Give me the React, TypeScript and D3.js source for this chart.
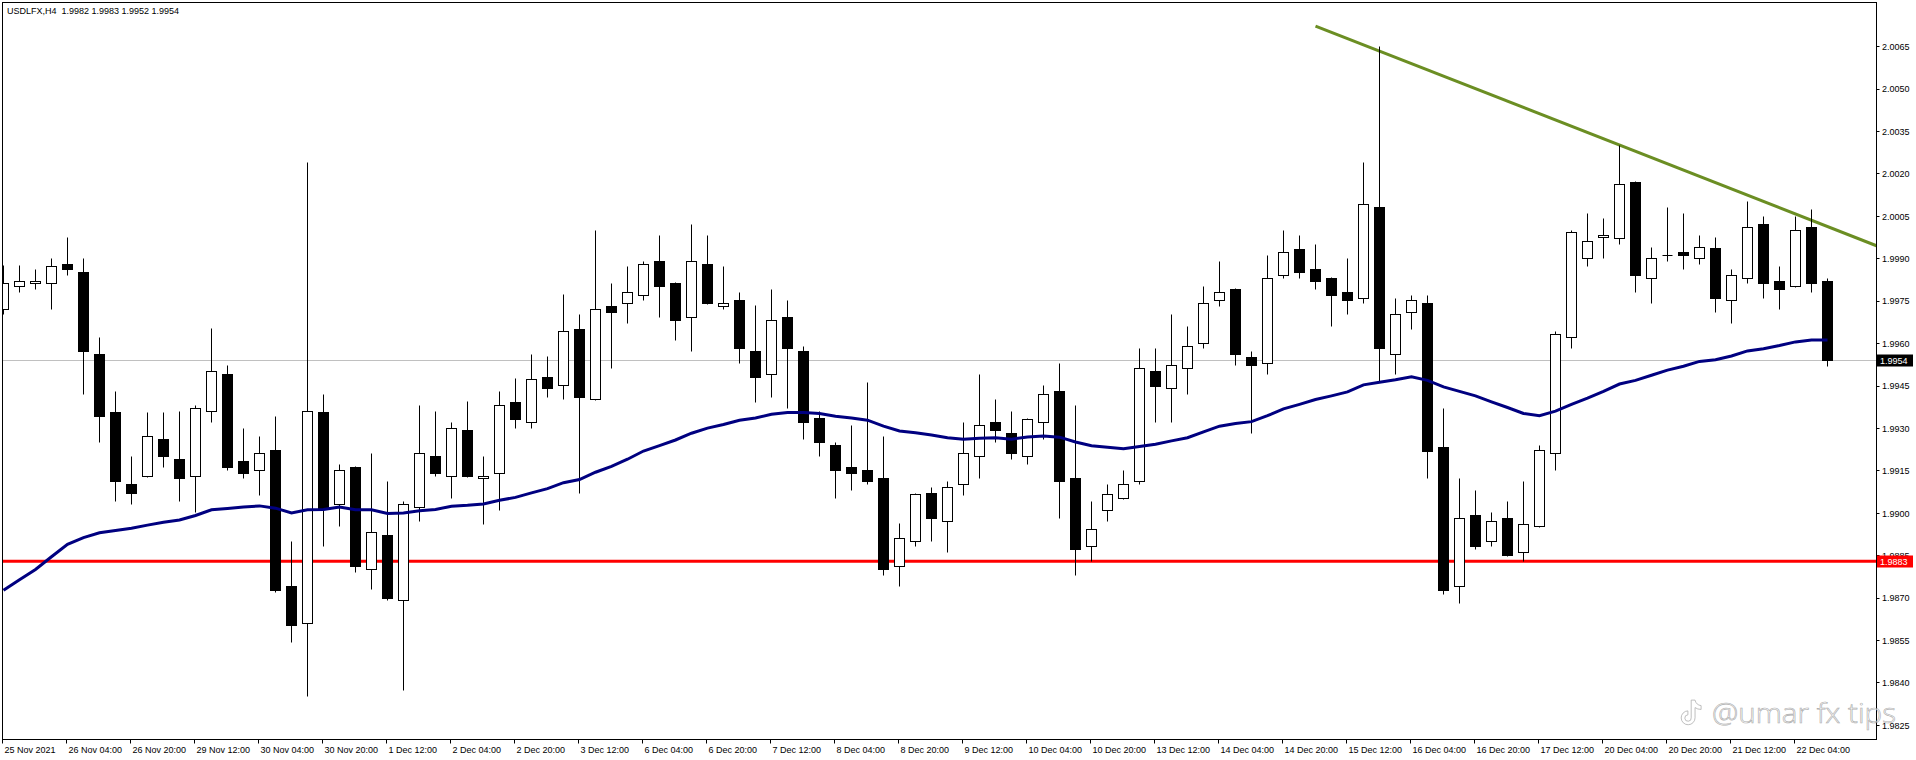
import * as d3 from "d3";

// H4 bars, 25 Nov 2021 12:00 .. 22 Dec 2021 12:00
const timeLabels = [
  "25 Nov 2021", "26 Nov 04:00", "26 Nov 20:00", "29 Nov 12:00", "30 Nov 04:00", "30 Nov 20:00",
  "1 Dec 12:00", "2 Dec 04:00", "2 Dec 20:00", "3 Dec 12:00", "6 Dec 04:00", "6 Dec 20:00",
  "7 Dec 12:00", "8 Dec 04:00", "8 Dec 20:00", "9 Dec 12:00", "10 Dec 04:00", "10 Dec 20:00",
  "13 Dec 12:00", "14 Dec 04:00", "14 Dec 20:00", "15 Dec 12:00", "16 Dec 04:00", "16 Dec 20:00",
  "17 Dec 12:00", "20 Dec 04:00", "20 Dec 20:00", "21 Dec 12:00", "22 Dec 04:00",
];
const LABEL_EVERY = 4; // one time label every 4 bars

const opens = [
  1.99722, 1.99803, 1.99813, 1.99813, 1.99881, 1.99853, 1.99563, 1.99355, 1.99103, 1.99129,
  1.99262, 1.99191, 1.99129, 1.9936, 1.99491, 1.99184, 1.9915, 1.99223, 1.98742, 1.98609,
  1.99355, 1.9903, 1.99162, 1.98801, 1.98923, 1.98692, 1.9902, 1.992, 1.99129, 1.99293,
  1.99122, 1.99142, 1.99392, 1.99321, 1.9948, 1.99452, 1.9965, 1.99402, 1.99731, 1.99741,
  1.9977, 1.99891, 1.99813, 1.99692, 1.99879, 1.99731, 1.99753, 1.99572, 1.99491, 1.99692,
  1.99572, 1.99334, 1.99241, 1.99161, 1.9915, 1.99122, 1.9881, 1.989, 1.99069, 1.9897,
  1.99101, 1.992, 1.99321, 1.99283, 1.992, 1.99321, 1.99431, 1.99122, 1.98882, 1.9901,
  1.99051, 1.99111, 1.99501, 1.99441, 1.99512, 1.99602, 1.99751, 1.99792, 1.99551, 1.9953,
  1.9984, 1.99933, 1.99861, 1.99831, 1.9978, 1.99761, 2.00081, 1.99561, 1.9971, 1.99741,
  1.99234, 1.98741, 1.98991, 1.989, 1.98981, 1.98861, 1.98952, 1.9921, 1.99621, 1.999,
  1.99974, 1.99972, 2.0017, 1.99831, 1.99912, 1.99923, 1.999, 1.99935, 1.99753, 1.99831,
  2.00021, 1.99821, 1.99801, 2.00011, 1.9982,
];
const highs = [
  1.99876, 1.99876, 1.99861, 1.99902, 1.99974, 1.99902, 1.99621, 1.99431, 1.99202, 1.99355,
  1.99355, 1.99361, 1.99381, 1.99652, 1.99524, 1.99301, 1.99272, 1.99343, 1.98901, 2.00242,
  1.99421, 1.99174, 1.99165, 1.99212, 1.99113, 1.99041, 1.99382, 1.99361, 1.99322, 1.99394,
  1.99202, 1.99431, 1.99475, 1.99563, 1.99553, 1.99772, 1.99702, 2.00001, 1.99814, 1.99874,
  1.99892, 1.99983, 1.99815, 2.00021, 1.99983, 1.99874, 1.99782, 1.99733, 1.99793, 1.99753,
  1.99589, 1.99361, 1.9925, 1.99311, 1.99463, 1.99272, 1.98962, 1.99069, 1.99091, 1.99113,
  1.99322, 1.99491, 1.99402, 1.99361, 1.99335, 1.99452, 1.99528, 1.99382, 1.99041, 1.99101,
  1.99152, 1.99582, 1.99582, 1.99702, 1.99662, 1.99803, 1.99892, 1.99795, 1.99572, 1.99913,
  2.00001, 1.99983, 1.99952, 1.99833, 1.99902, 2.00242, 2.00651, 1.99761, 1.9977, 1.9977,
  1.99371, 1.99122, 1.9908, 1.99002, 1.99041, 1.99111, 1.99239, 1.99642, 2.00001, 2.00061,
  2.00042, 2.00302, 2.00172, 1.99941, 2.00082, 2.00061, 1.99983, 1.99974, 1.99863, 2.00102,
  2.0005, 1.99874, 2.0005, 2.00073, 1.9983,
];
const lows = [
  1.99702, 1.9978, 1.9979, 1.9972, 1.9984, 1.99421, 1.99249, 1.99041, 1.9903, 1.99125,
  1.99161, 1.99041, 1.99002, 1.99321, 1.9915, 1.99122, 1.99061, 1.98719, 1.98542, 1.98351,
  1.98882, 1.98952, 1.98789, 1.98729, 1.9869, 1.98373, 1.9897, 1.99129, 1.99051, 1.99125,
  1.9896, 1.99009, 1.99299, 1.99299, 1.99411, 1.99402, 1.99069, 1.994, 1.99511, 1.9967,
  1.99751, 1.99691, 1.9961, 1.99571, 1.99738, 1.9972, 1.99528, 1.9939, 1.99411, 1.99369,
  1.9926, 1.992, 1.99051, 1.9908, 1.99101, 1.9878, 1.98741, 1.98882, 1.989, 1.98861,
  1.99061, 1.99122, 1.99249, 1.99191, 1.99171, 1.9926, 1.98981, 1.9878, 1.9883, 1.9897,
  1.99048, 1.99101, 1.99321, 1.99321, 1.99421, 1.99581, 1.9973, 1.99522, 1.99282, 1.99489,
  1.99831, 1.99831, 1.99792, 1.99662, 1.99702, 1.99741, 1.99462, 1.99489, 1.9965, 1.99122,
  1.98711, 1.9868, 1.98871, 1.98882, 1.98846, 1.9883, 1.9895, 1.9915, 1.99581, 1.99873,
  1.999, 1.99949, 1.9978, 1.99741, 1.99889, 1.99861, 1.99879, 1.99709, 1.9967, 1.99813,
  1.99759, 1.9972, 1.99798, 1.9978, 1.9952,
];
const closes = [
  1.99813, 1.99821, 1.99821, 1.99874, 1.99861, 1.99571, 1.99342, 1.99111, 1.99069, 1.99272,
  1.992, 1.99122, 1.99371, 1.99502, 1.99161, 1.9914, 1.9921, 1.98728, 1.98603, 1.9936,
  1.99018, 1.9915, 1.9881, 1.98931, 1.987, 1.9903, 1.9921, 1.9914, 1.99299, 1.99129,
  1.9913, 1.99381, 1.9933, 1.99473, 1.99441, 1.99644, 1.99411, 1.9972, 1.99709, 1.9978,
  1.99879, 1.99801, 1.99681, 1.99891, 1.99741, 1.99743, 1.99582, 1.9948, 1.99681, 1.99582,
  1.99321, 1.99249, 1.9915, 1.9914, 1.99111, 1.98801, 1.9891, 1.99065, 1.98981, 1.9909,
  1.9921, 1.99309, 1.99291, 1.9921, 1.99332, 1.99421, 1.99111, 1.98871, 1.98942, 1.99065,
  1.99101, 1.99512, 1.9945, 1.99522, 1.9959, 1.99743, 1.9978, 1.99561, 1.99522, 1.99831,
  1.99922, 1.9985, 1.99821, 1.9977, 1.99751, 2.00092, 1.99582, 1.99702, 1.99751, 1.9922,
  1.98728, 1.98981, 1.98882, 1.9897, 1.98849, 1.9896, 1.99221, 1.99632, 1.99993, 1.99961,
  1.99982, 2.00162, 1.9984, 1.999, 1.99912, 1.9991, 1.99939, 1.99759, 1.9984, 2.00011,
  1.99813, 1.99792, 2.00001, 1.99813, 1.9954,
];
// moving average line
const maValues = [
  1.98728, 1.98765, 1.98801, 1.98846, 1.9889, 1.98914, 1.98931, 1.98939, 1.98947, 1.98958,
  1.98968, 1.98976, 1.98992, 1.99012, 1.99017, 1.99022, 1.99026, 1.99018, 1.99001, 1.99012,
  1.99013, 1.99022, 1.99012, 1.99012, 1.98999, 1.99001, 1.99009, 1.99013, 1.99025, 1.99028,
  1.99033, 1.99046, 1.99056, 1.99072, 1.99087, 1.99108, 1.99119, 1.99145, 1.99166, 1.99191,
  1.9922, 1.99239, 1.99259, 1.99283, 1.99301, 1.99314, 1.99329, 1.99337, 1.9935, 1.99356,
  1.99356, 1.99353, 1.99343, 1.99337, 1.99329, 1.99308, 1.99291, 1.99285, 1.99277, 1.99267,
  1.99262, 1.99265, 1.99267, 1.99262, 1.9927, 1.99273, 1.99269, 1.99252, 1.99239, 1.99233,
  1.99228, 1.99236, 1.99244, 1.99256, 1.99267, 1.99288, 1.99308, 1.99317, 1.99324, 1.99345,
  1.99369, 1.99385, 1.99402, 1.99415, 1.99429, 1.99454, 1.99463, 1.99472, 1.99483, 1.9947,
  1.99447, 1.99431, 1.99415, 1.99394, 1.99374, 1.99353, 1.99345, 1.99361, 1.99385, 1.99407,
  1.99431, 1.99457, 1.9947, 1.99488, 1.99506, 1.9952, 1.99537, 1.99543, 1.99556, 1.99574,
  1.99582, 1.99593, 1.99606, 1.99613, 1.99613,
];

const priceTicks = [
  1.9825, 1.984, 1.9855, 1.987, 1.9885, 1.99, 1.9915, 1.993, 1.9945,
  1.996, 1.9975, 1.999, 2.0005, 2.002, 2.0035, 2.005, 2.0065,
];
const bidPrice = 1.9954;
const supportPrice = 1.9883;
const trendBars = [82, 101];
const trendPrices = [2.00723, 2.00302];
const symbolTitle = "USDLFX,H4";
const lastQuote = [1.9982, 1.9983, 1.9952, 1.9954];
const watermark = "@umar fx tips";

const W = 1916;
const H = 760;
const LEFT = 2.5;
const TOP = 2.5;
const RIGHT = 1876.5;
const BOTTOM = 739.5;
const BAR_STEP = 16;
const HALF_BODY = 5;
const FONT = "'Liberation Sans', Arial, sans-serif";

export default function App() {
  const n = opens.length;
  const x = d3.scaleLinear().domain([0, n - 1]).range([3.5, 3.5 + BAR_STEP * (n - 1)]);
  const y = d3.scaleLinear().domain([1.9825, 2.0065]).range([725.3, 46.7]);
  const snap = (v: number) => Math.round(v - 0.5) + 0.5;

  const maLine = d3
    .line<number>()
    .x((_, i) => x(i))
    .y((d) => y(d))
    .curve(d3.curveLinear);

  // trend ray from first anchor to the right edge of the plot
  const slope = (trendPrices[1] - trendPrices[0]) / (trendBars[1] - trendBars[0]);
  const endBar = x.invert(RIGHT);
  const endPrice = trendPrices[0] + slope * (endBar - trendBars[0]);

  const candles = opens.map((o, i) => {
    const c = closes[i];
    const cx = x(i);
    const top = snap(y(Math.max(o, c)));
    const bot = snap(y(Math.min(o, c)));
    const bull = c >= o;
    return (
      <g key={i}>
        <line x1={cx} x2={cx} y1={snap(y(highs[i]))} y2={snap(y(lows[i]))} stroke="#000" strokeWidth={1} />
        {bot - top < 1 ? (
          <line x1={cx - HALF_BODY} x2={cx + HALF_BODY} y1={top} y2={top} stroke="#000" strokeWidth={1} />
        ) : (
          <rect
            x={cx - HALF_BODY}
            y={top}
            width={HALF_BODY * 2}
            height={bot - top}
            fill={bull ? "#fff" : "#000"}
            stroke="#000"
            strokeWidth={1}
          />
        )}
      </g>
    );
  });

  return (
    <svg
      width={W}
      height={H}
      style={{ position: "absolute", left: 0, top: 0, background: "#fff" }}
      fontFamily={FONT}
    >
      <defs>
        <clipPath id="plot">
          <rect x={LEFT} y={TOP} width={RIGHT - LEFT} height={BOTTOM - TOP} />
        </clipPath>
      </defs>
      <rect x={0} y={0} width={W} height={H} fill="#fff" />

      <g clipPath="url(#plot)">
        {/* bid line */}
        <line x1={LEFT} x2={RIGHT} y1={snap(y(bidPrice))} y2={snap(y(bidPrice))} stroke="#c0c0c0" strokeWidth={1} />
        {/* horizontal level */}
        <line x1={LEFT} x2={RIGHT} y1={y(supportPrice)} y2={y(supportPrice)} stroke="#ff0000" strokeWidth={3} />
        {/* trend line */}
        <line
          x1={x(trendBars[0])}
          y1={y(trendPrices[0])}
          x2={RIGHT}
          y2={y(endPrice)}
          stroke="#6b8e23"
          strokeWidth={3}
        />
        {candles}
        <path d={maLine(maValues) ?? ""} fill="none" stroke="#000080" strokeWidth={3} />
      </g>

      {/* frame */}
      <rect x={LEFT} y={TOP} width={RIGHT - LEFT} height={BOTTOM - TOP} fill="none" stroke="#000" strokeWidth={1} />

      {/* price axis */}
      {priceTicks.map((p) => (
        <g key={p}>
          <line x1={RIGHT} x2={RIGHT + 3} y1={snap(y(p))} y2={snap(y(p))} stroke="#000" />
          <text x={1882} y={y(p) + 3.3} fontSize={9} fill="#000">
            {p.toFixed(4)}
          </text>
        </g>
      ))}
      <rect x={1877} y={snap(y(bidPrice)) - 6} width={36} height={12} fill="#000" />
      <text x={1880} y={y(bidPrice) + 3.3} fontSize={9} fill="#fff">
        {bidPrice.toFixed(4)}
      </text>
      <rect x={1877} y={snap(y(supportPrice)) - 6} width={36} height={12} fill="#ff0000" />
      <text x={1880} y={y(supportPrice) + 3.3} fontSize={9} fill="#fff">
        {supportPrice.toFixed(4)}
      </text>

      {/* time axis */}
      {timeLabels.map((t, k) => {
        const tx = x(k * LABEL_EVERY) - 1;
        return (
          <g key={t}>
            <line x1={tx} x2={tx} y1={BOTTOM} y2={BOTTOM + 4} stroke="#000" />
            <text x={tx + 2} y={752.5} fontSize={9} fill="#000">
              {t}
            </text>
          </g>
        );
      })}

      {/* title */}
      <text x={7} y={13.5} fontSize={9} fill="#000" style={{ whiteSpace: "pre" }}>
        {`${symbolTitle}  ${lastQuote.map((v) => v.toFixed(4)).join(" ")}`}
      </text>

      {/* watermark */}
      <g opacity={0.7}>
        <path
          transform="translate(1678,699) scale(1.1)"
          d="M12,1 L15.5,1 Q16.5,5.5 21,6 L21,9.5 Q17.8,9.5 15.5,7.8 L15.5,17 A6.3,6.3 0 1,1 9,10.8 L9,14.4 A2.9,2.9 0 1,0 12,17 Z"
          fill="#fff"
          stroke="#8a8a8a"
          strokeWidth={0.7}
        />
        <text
          x={1712}
          y={723}
          fontSize={27}
          fontFamily="'Open Sans', sans-serif"
          fontWeight={300}
          fill="#fff"
          stroke="#8a8a8a"
          strokeWidth={0.6}
          textLength={184}
          lengthAdjust="spacingAndGlyphs"
        >
          {watermark}
        </text>
      </g>
    </svg>
  );
}
